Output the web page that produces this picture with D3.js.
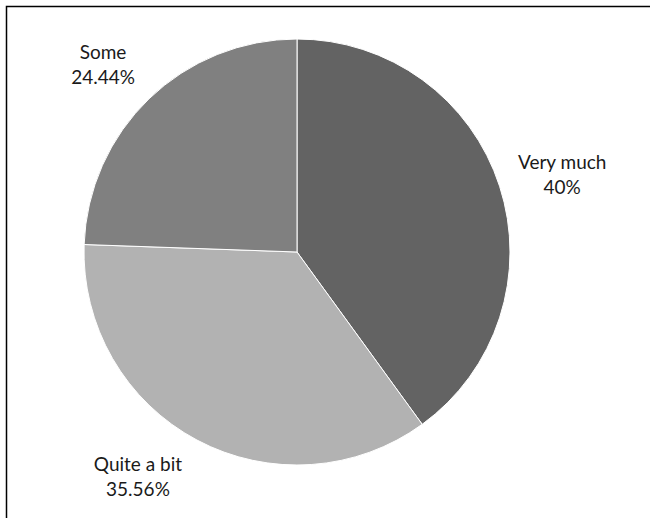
<!DOCTYPE html>
<meta charset="utf-8">
<style>
body {
  margin: 0;
  background: #fff;
}
.label {
  font-family: Lato, "Open Sans", sans-serif;
  font-size: 19px;
  fill: #1a1a1a;
}
</style>
<body>
<script src="https://cdn.jsdelivr.net/npm/d3@7"></script>
<script>

var categories = ["Very much", "Quite a bit", "Some"];
var shares = [40, 35.56, 24.44];
var shareLabels = ["40%", "35.56%", "24.44%"];
var sliceColors = ["#636363", "#b2b2b2", "#808080"];

// hand nudges so the labels sit like the original
var labelNudge = [[16, -2], [-36, -12], [-12, -5]];

var width = 650,
    height = 518,
    cx = 297,
    cy = 252,
    radius = 213;

var svg = d3.select("body").append("svg")
    .attr("width", width)
    .attr("height", height);

// frame, only top and left edges fall inside the picture
svg.append("rect")
    .attr("x", 6.5)
    .attr("y", 6.5)
    .attr("width", 700)
    .attr("height", 600)
    .attr("fill", "none")
    .attr("stroke", "#000")
    .attr("stroke-width", 1.5);

var data = categories.map(function(c, i) {
  return {name: c, value: shares[i], label: shareLabels[i], index: i};
});

var pie = d3.pie()
    .sort(null)
    .value(function(d) { return d.value; });

var arc = d3.arc()
    .innerRadius(0)
    .outerRadius(radius);

var labelArc = d3.arc()
    .innerRadius(262)
    .outerRadius(262);

var g = svg.append("g")
    .attr("transform", "translate(" + cx + "," + cy + ")");

var arcs = pie(data);

g.selectAll(".slice")
    .data(arcs)
  .enter().append("path")
    .attr("class", "slice")
    .attr("d", arc)
    .attr("fill", function(d) { return sliceColors[d.index]; })
    .attr("stroke", "#fff")
    .attr("stroke-width", 1);

var labels = g.selectAll(".label")
    .data(arcs)
  .enter().append("text")
    .attr("class", "label")
    .attr("text-anchor", "middle")
    .attr("transform", function(d) {
      var c = labelArc.centroid(d),
          n = labelNudge[d.index];
      return "translate(" + (c[0] + n[0]) + "," + (c[1] + n[1]) + ")";
    });

labels.append("tspan")
    .attr("x", 0)
    .attr("y", 0)
    .text(function(d) { return d.data.name; });

labels.append("tspan")
    .attr("x", 0)
    .attr("y", 25)
    .text(function(d) { return d.data.label; });

</script>
